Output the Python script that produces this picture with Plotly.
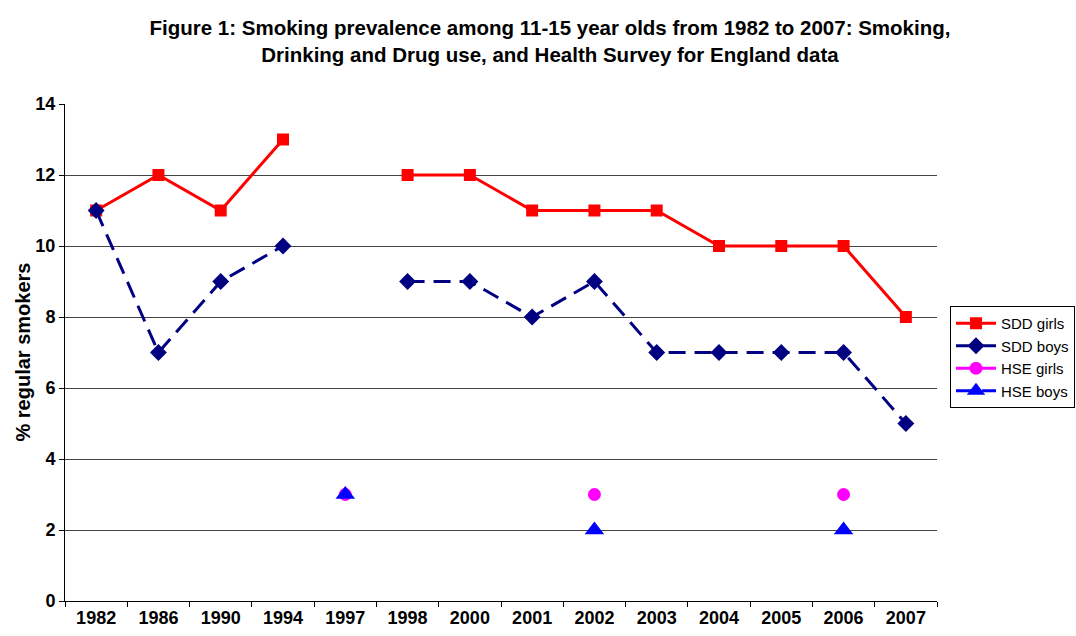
import plotly.graph_objects as go

years = ["1982", "1986", "1990", "1994", "1997", "1998", "2000", "2001",
         "2002", "2003", "2004", "2005", "2006", "2007"]
sdd_girls = [11, 12, 11, 13, None, 12, 12, 11, 11, 11, 10, 10, 10, 8]
sdd_boys = [11, 7, 9, 10, None, 9, 9, 8, 9, 7, 7, 7, 7, 5]
hse_girls = [None, None, None, None, 3, None, None, None, 3, None, None, None, 3, None]
hse_boys = [None, None, None, None, 3, None, None, None, 2, None, None, None, 2, None]

font = "Liberation Sans, Arial, sans-serif"

fig = go.Figure()
fig.add_trace(go.Scatter(x=years, y=sdd_girls, name="SDD girls", mode="lines+markers",
                         line=dict(color="#FF0000", width=3),
                         marker=dict(symbol="square", size=12, color="#FF0000"),
                         connectgaps=False))
fig.add_trace(go.Scatter(x=years, y=sdd_boys, name="SDD boys", mode="lines+markers",
                         line=dict(color="#000080", width=3, dash="17px,9px"),
                         marker=dict(symbol="diamond", size=13, color="#000080"),
                         connectgaps=False))
fig.add_trace(go.Scatter(x=years, y=hse_girls, name="HSE girls", mode="lines+markers",
                         line=dict(color="#FF00FF", width=3, dash="17px,9px"),
                         marker=dict(symbol="circle", size=13, color="#FF00FF"),
                         connectgaps=False))
fig.add_trace(go.Scatter(x=years, y=hse_boys, name="HSE boys", mode="lines+markers",
                         line=dict(color="#0000FF", width=3, dash="17px,9px"),
                         marker=dict(symbol="triangle-up", size=17, color="#0000FF"),
                         connectgaps=False))

fig.update_layout(
    width=1076, height=636,
    margin=dict(l=65, r=139, t=104, b=35),
    paper_bgcolor="white", plot_bgcolor="white",
    font=dict(family=font, color="black"),
    title=dict(
        text="<b>Figure 1: Smoking prevalence among 11-15 year olds from 1982 to 2007: Smoking,<br>Drinking and Drug use, and Health Survey for England data</b>",
        x=550 / 1076, xref="container", xanchor="center",
        y=1 - 35 / 636, yref="container", yanchor="middle",
        font=dict(size=20.5, family=font, color="black"),
    ),
    xaxis=dict(
        type="category", categoryorder="array", categoryarray=years,
        range=[-0.5, 13.5], automargin=False,
        tickson="boundaries", ticks="outside", ticklen=5, tickcolor="black",
        showline=True, linecolor="black", linewidth=1,
        showgrid=False, zeroline=False,
        tickfont=dict(size=18, family=font, color="black"),
        tickprefix="<b>", ticksuffix="</b>",
    ),
    yaxis=dict(
        range=[0, 14], dtick=2, ticks="outside", ticklen=5, tickcolor="black",
        showline=True, linecolor="black", linewidth=1, automargin=False,
        showgrid=True, gridcolor="#444444", gridwidth=1, zeroline=False,
        tickfont=dict(size=18, family=font, color="black"),
        tickprefix="<b>", ticksuffix="</b>",
    ),
    annotations=[dict(
        text="<b>% regular smokers</b>", textangle=-90,
        x=(22 - 65) / (1076 - 65 - 139), xref="paper", y=0.5, yref="paper",
        font=dict(size=20, family=font, color="black"),
        showarrow=False, xanchor="center", yanchor="middle",
    )],
    legend=dict(
        x=950 / 1076, xref="container", xanchor="left",
        y=1 - 306 / 636, yref="container", yanchor="top",
        bordercolor="black", borderwidth=1, bgcolor="white",
        font=dict(size=15, family=font, color="black"),
        tracegroupgap=0, itemwidth=40,
    ),
    showlegend=True,
)

fig.write_html("out.html")
